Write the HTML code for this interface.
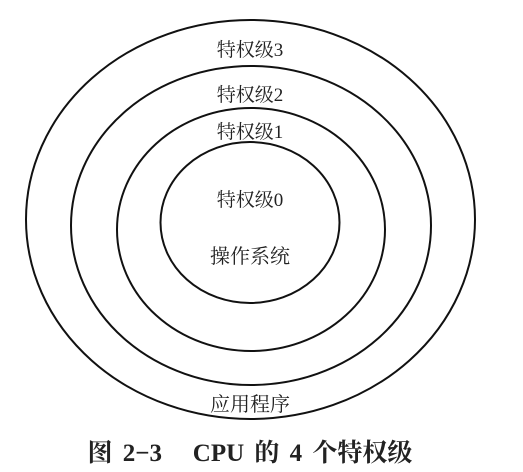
<!DOCTYPE html>
<html><head><meta charset="utf-8"><style>
html,body{margin:0;padding:0;background:#fff;}
svg{display:block;}
text{font-family:"Liberation Serif","Noto Serif CJK SC",serif;fill:#222;}
</style></head><body>
<svg width="523" height="472" viewBox="0 0 523 472" xmlns="http://www.w3.org/2000/svg">
<g fill="none" stroke="#111" stroke-width="2">
<ellipse cx="250.5" cy="219.5" rx="224.5" ry="199.5"/>
<ellipse cx="251" cy="225.5" rx="180" ry="159.5"/>
<ellipse cx="251" cy="229.5" rx="134" ry="121.5"/>
<ellipse cx="250" cy="222.5" rx="89.5" ry="80.5"/>
</g>
<g font-size="19" text-anchor="middle">
<text x="250" y="56">特权级3</text>
<text x="250" y="101">特权级2</text>
<text x="250" y="138">特权级1</text>
<text x="250" y="206">特权级0</text>
<text x="250" y="263" font-size="20">操作系统</text>
<text x="250" y="411" font-size="20">应用程序</text>
</g>
<text x="250" y="461" font-size="25" font-weight="bold" text-anchor="middle" style="word-spacing:4px">图 2−3&#160;&#160;&#160;CPU 的 4 个特权级</text>
</svg>
</body></html>
